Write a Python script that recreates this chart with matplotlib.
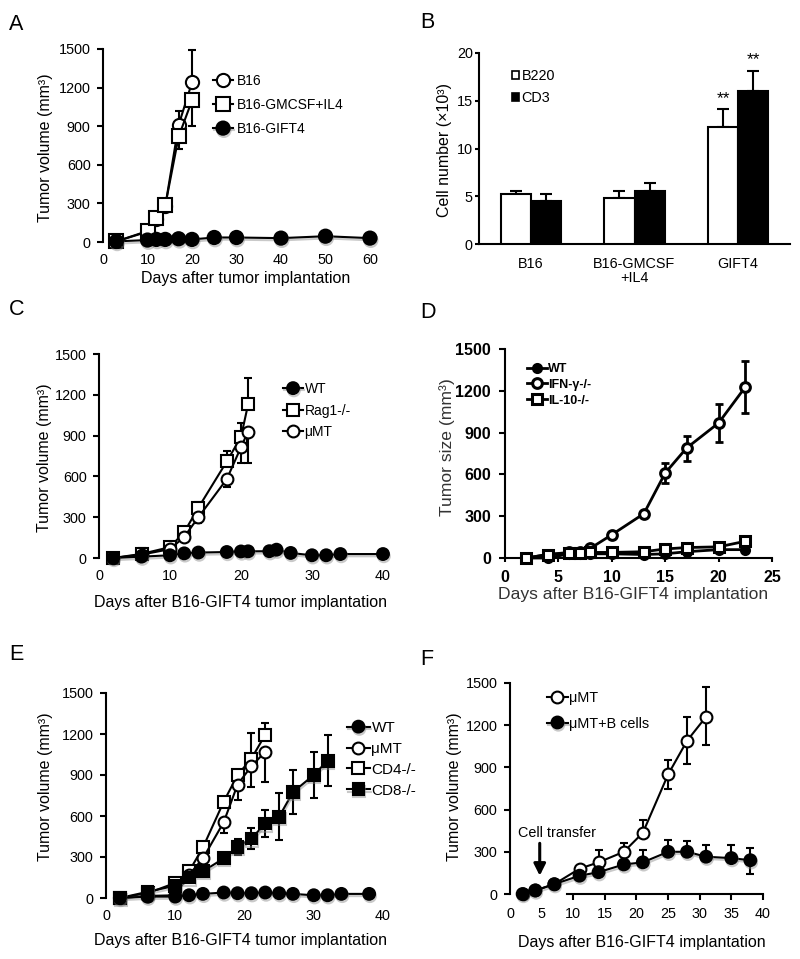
import matplotlib
matplotlib.use('Agg')
import matplotlib.pyplot as plt
import matplotlib.patheffects as pe
from matplotlib.patches import Patch
import numpy as np

plt.rcParams['font.family'] = ['Liberation Sans', 'DejaVu Sans']
plt.rcParams['axes.linewidth'] = 1.5

W, H = 800, 959

# ---------------- data ----------------
# Panel A
a_x = [3, 10, 12, 14, 17, 20]
a_b16 = [5, 80, 180, 280, 910, 1240]
a_b16_up = [0, 0, 0, 0, 110, 250]
a_gm = [5, 85, 185, 285, 820, 1100]
a_gm_dn = [0, 0, 0, 0, 100, 200]
a_gift_x = [3, 10, 12, 14, 17, 20, 25, 30, 40, 50, 60]
a_gift = [5, 15, 20, 20, 25, 20, 35, 35, 30, 45, 30]
a_labels = ['B16', 'B16-GMCSF+IL4', 'B16-GIFT4']

# Panel B
b_cats = ['B16', 'B16-GMCSF\n+IL4', 'GIFT4']
b_b220 = [5.2, 4.8, 12.2]
b_b220_err = [0.4, 0.8, 1.9]
b_cd3 = [4.5, 5.6, 16.0]
b_cd3_err = [0.75, 0.75, 2.15]
b_labels = ['B220', 'CD3']

# Panel C
c_x = [2, 6, 10, 12, 14, 18, 20, 21]
c_rag = [0, 30, 80, 190, 370, 710, 890, 1130]
c_rag_up = [0, 40, 40, 40, 45, 80, 100, 190]
c_mumt = [0, 25, 65, 155, 300, 580, 815, 930]
c_mumt_dn = [0, 40, 40, 30, 40, 60, 120, 230]
c_wt_x = [2, 6, 10, 12, 14, 18, 20, 21, 24, 25, 27, 30, 32, 34, 40]
c_wt = [0, 10, 20, 34, 40, 44, 48, 49, 50, 61, 37, 20, 20, 29, 29]
c_labels = ['WT', 'Rag1-/-', 'μMT']

# Panel D
d_x = [2, 4, 6, 7, 8, 10, 13, 15, 17, 20, 22.5]
d_wt = [0, 0, 30, 30, 30, 30, 25, 30, 45, 60, 60]
d_ifn = [0, 25, 40, 40, 70, 167, 318, 610, 789, 969, 1227]
d_ifn_err = [0, 0, 0, 0, 0, 15, 20, 75, 90, 135, 185]
d_il10 = [0, 25, 35, 35, 40, 40, 45, 65, 75, 80, 120]
d_labels = ['WT', 'IFN-γ-/-', 'IL-10-/-']

# Panel E
e_x = [2, 6, 10, 12, 14, 17, 19, 21, 23]
e_mumt = [0, 15, 20, 170, 290, 555, 830, 965, 1070]
e_mumt_dn = [0, 0, 0, 0, 0, 80, 115, 150, 220]
e_cd4 = [0, 35, 110, 195, 370, 705, 900, 1020, 1195]
e_cd4_up = [0, 0, 0, 0, 0, 0, 0, 190, 85]
e_cd8_x = [2, 6, 10, 12, 14, 17, 19, 21, 23, 25, 27, 30, 32]
e_cd8 = [0, 45, 90, 150, 195, 290, 375, 435, 545, 595, 775, 900, 1005]
e_cd8_err = [0, 0, 0, 0, 0, 0, 60, 80, 100, 170, 160, 170, 185]
e_wt_x = [2, 6, 10, 12, 14, 17, 19, 21, 23, 25, 27, 30, 32, 34, 38]
e_wt = [0, 10, 10, 20, 30, 40, 35, 35, 40, 35, 30, 20, 20, 30, 30]
e_labels = ['WT', 'μMT', 'CD4-/-', 'CD8-/-']

# Panel F
f_mumt_x = [2, 4, 7, 11, 14, 18, 21, 25, 28, 31]
f_mumt = [0, 25, 70, 180, 225, 300, 435, 850, 1090, 1260]
f_mumt_dn = [0, 0, 0, 0, 0, 0, 0, 100, 165, 200]
f_mumt_up = [0, 0, 0, 0, 85, 60, 90, 105, 170, 215]
f_b_x = [2, 4, 7, 11, 14, 18, 21, 25, 28, 31, 35, 38]
f_b = [0, 25, 70, 130, 155, 210, 225, 300, 300, 265, 255, 240]
f_b_up = [0, 0, 0, 0, 0, 0, 85, 85, 75, 85, 90, 85]
f_b_dn = [0, 0, 0, 0, 0, 0, 0, 0, 0, 0, 0, 95]
f_labels = ['μMT', 'μMT+B cells']

TICK_FS = 10.4
LAB_FS = 11.5

# ---------------- figure ----------------
fig = plt.figure(figsize=(W / 100, H / 100), dpi=100)


def axes_px(l, t, r, b):
    return fig.add_axes([l / W, 1 - b / H, (r - l) / W, (b - t) / H])


def fx(x):
    return x / W


def fy(y):
    return 1 - y / H


SHADOW = [pe.SimpleLineShadow(offset=(0.6, -1.6), shadow_color='#888888', alpha=0.45), pe.Normal()]


def line(ax, x, y, marker, filled, ms=9, lw=1.5, mew=1.5, z=4, shadow=True):
    fc = 'black' if filled else 'white'
    ln = ax.plot(x, y, color='black', lw=lw, marker=marker, ms=ms, mfc=fc,
                 mec='black', mew=mew, zorder=z, clip_on=False)[0]
    if shadow and filled:
        ln.set_path_effects(SHADOW)
    return ln


def err(ax, x, y, lo, hi, lw=1.5, cap=3, z=2):
    ax.errorbar(x, y, yerr=[lo, hi], fmt='none', ecolor='black', elinewidth=lw,
                capsize=cap, capthick=lw, zorder=z, clip_on=False)


def style(ax, xlim, xticks, ylim, yticks, bottom=False, fs=TICK_FS, bold=False):
    for s in ['top', 'right']:
        ax.spines[s].set_visible(False)
    ax.spines['bottom'].set_visible(bottom)
    ax.set_xlim(*xlim)
    ax.set_ylim(*ylim)
    ax.set_xticks(xticks)
    ax.set_yticks(yticks)
    ax.tick_params(axis='y', direction='out', length=4, width=1.5, pad=5, labelsize=fs)
    ax.tick_params(axis='x', direction='out', length=0, width=1.5, pad=8, labelsize=fs)
    if bold:
        for t in ax.get_xticklabels() + ax.get_yticklabels():
            t.set_fontweight('bold')
    ax.patch.set_alpha(0)


def labels(ax, xl, xlc, yl, ylc, fs=LAB_FS, color='black', weight='normal'):
    ax.set_xlabel(xl, fontsize=fs, va='center', color=color, fontweight=weight)
    ax.xaxis.set_label_coords(fx(xlc[0]), fy(xlc[1]), transform=fig.transFigure)
    ax.set_ylabel(yl, fontsize=fs, va='center', color=color, fontweight=weight)
    ax.yaxis.set_label_coords(fx(ylc[0]), fy(ylc[1]), transform=fig.transFigure)


def legend_at(ax, handles, labs, x, ytop, fs=10, hl=1.45, ls=0.7, tp=0.3, weight='normal', **kw):
    leg = ax.legend(handles, labs, loc='upper left', bbox_to_anchor=(fx(x), fy(ytop)),
                    bbox_transform=fig.transFigure, frameon=False, borderpad=0,
                    borderaxespad=0, handlelength=hl, labelspacing=ls,
                    handletextpad=tp, prop={'size': fs, 'weight': weight}, **kw)
    return leg


def panel_letter(x, yb, s):
    fig.text(fx(x), fy(yb), s, fontsize=15.5, va='baseline', ha='left')


# ---------------- Panel A ----------------
ax = axes_px(103, 49, 370, 242)
err(ax, a_x, a_b16, [0] * len(a_x), a_b16_up)
err(ax, a_x, a_gm, a_gm_dn, [0] * len(a_x))
h3 = line(ax, a_gift_x, a_gift, 'o', True, ms=9.5, z=5)
h1 = line(ax, a_x, a_b16, 'o', False, ms=9.5, z=4)
h2 = line(ax, a_x, a_gm, 's', False, ms=9.5, z=4.5)
style(ax, (0, 60), range(0, 61, 10), (0, 1500), range(0, 1501, 300))
labels(ax, 'Days after tumor implantation', (246, 278), 'Tumor volume (mm³)', (46, 148))
legend_at(ax, [h1, h2, h3], a_labels, 213, 74, ls=0.72, hl=1.45, tp=0.3)
panel_letter(9, 30, 'A')

# ---------------- Panel B ----------------
ax = axes_px(479, 53, 790, 244)
bw = 0.29
xb = np.arange(len(b_cats))
ax.bar(xb - bw / 2, b_b220, bw, color='white', edgecolor='black', lw=1.5, zorder=3)
ax.bar(xb + bw / 2, b_cd3, bw, color='black', edgecolor='black', lw=1.5, zorder=3)
ax.errorbar(xb - bw / 2, b_b220, yerr=[np.zeros(3), b_b220_err], fmt='none', ecolor='black',
            elinewidth=1.5, capsize=4, capthick=1.5, zorder=2)
ax.errorbar(xb + bw / 2, b_cd3, yerr=[np.zeros(3), b_cd3_err], fmt='none', ecolor='black',
            elinewidth=1.5, capsize=4, capthick=1.5, zorder=2)
ax.text(xb[2] - bw / 2, b_b220[2] + b_b220_err[2] + 0.35, '**', ha='center', va='bottom', fontsize=12.5)
ax.text(xb[2] + bw / 2, b_cd3[2] + b_cd3_err[2] + 0.35, '**', ha='center', va='bottom', fontsize=12.5)
style(ax, (-0.5, 2.5), xb, (0, 20), range(0, 21, 5), bottom=True)
ax.tick_params(axis='y', length=3, pad=1.5)
ax.set_xticklabels(b_cats, linespacing=1.05)
ax.tick_params(axis='x', pad=9)
ax.set_ylabel('Cell number (×10³)', fontsize=LAB_FS, va='center')
ax.yaxis.set_label_coords(fx(444), fy(150), transform=fig.transFigure)
hb = [Patch(facecolor='white', edgecolor='black', lw=1.2), Patch(facecolor='black', edgecolor='black', lw=1.2)]
legend_at(ax, hb, b_labels, 512, 69, fs=10.4, hl=0.45, ls=0.55, tp=0.2, handleheight=0.45)
panel_letter(420, 28, 'B')

# ---------------- Panel C ----------------
ax = axes_px(99, 354, 383, 558)
err(ax, c_x, c_rag, [0] * len(c_x), c_rag_up)
err(ax, c_x, c_mumt, c_mumt_dn, [0] * len(c_x))
hc1 = line(ax, c_wt_x, c_wt, 'o', True, ms=8.5, z=5)
hc2 = line(ax, c_x, c_rag, 's', False, ms=8.5, z=4)
hc3 = line(ax, c_x, c_mumt, 'o', False, ms=8.5, z=4.5)
style(ax, (0, 40), range(0, 41, 10), (0, 1500), range(0, 1501, 300))
labels(ax, 'Days after B16-GIFT4 tumor implantation', (240, 603), 'Tumor volume (mm³)', (45, 458))
legend_at(ax, [hc1, hc2, hc3], c_labels, 283, 382, ls=0.55, hl=1.45, tp=0.1)
panel_letter(9, 315, 'C')

# ---------------- Panel D ----------------
ax = axes_px(505, 349, 772, 558)
err(ax, d_x, d_ifn, d_ifn_err, d_ifn_err, lw=2, cap=3)
hd2 = line(ax, d_x, d_ifn, 'o', False, ms=7, lw=2, mew=2.2, z=4)
hd3 = line(ax, d_x, d_il10, 's', False, ms=7, lw=2, mew=2.2, z=4.5)
hd1 = line(ax, d_x, d_wt, 'o', True, ms=6, lw=2, mew=2, z=4.2, shadow=False)
style(ax, (0, 25), range(0, 26, 5), (0, 1500), range(0, 1501, 300), bottom=True, fs=11.5, bold=True)
ax.tick_params(axis='x', length=3, pad=6)
ax.tick_params(axis='y', pad=6)
labels(ax, 'Days after B16-GIFT4 implantation', (633, 595), 'Tumor size (mm³)', (447, 447),
       fs=12.6, color='#333333')
legend_at(ax, [hd1, hd2, hd3], d_labels, 527, 363, fs=9, ls=0.3, hl=1.6, tp=0.1, weight='bold')
panel_letter(420, 318, 'D')

# ---------------- Panel E ----------------
ax = axes_px(106, 693, 383, 898)
err(ax, e_x, e_mumt, e_mumt_dn, [0] * len(e_x))
err(ax, e_x, e_cd4, [0] * len(e_x), e_cd4_up)
err(ax, e_cd8_x, e_cd8, e_cd8_err, e_cd8_err)
he1 = line(ax, e_wt_x, e_wt, 'o', True, ms=8.5, z=5)
he4 = line(ax, e_cd8_x, e_cd8, 's', True, ms=8.5, z=4.8)
he2 = line(ax, e_x, e_mumt, 'o', False, ms=8.5, z=4.5)
he3 = line(ax, e_x, e_cd4, 's', False, ms=8.5, z=4)
style(ax, (0, 40), range(0, 41, 10), (0, 1500), range(0, 1501, 300))
labels(ax, 'Days after B16-GIFT4 tumor implantation', (240, 940), 'Tumor volume (mm³)', (46, 787))
legend_at(ax, [he1, he2, he3, he4], e_labels, 347, 721, fs=11, ls=0.45, hl=1.5, tp=0.1)
panel_letter(9, 660, 'E')

# ---------------- Panel F ----------------
ax = axes_px(510, 683, 763, 894)
err(ax, f_mumt_x, f_mumt, f_mumt_dn, f_mumt_up)
err(ax, f_b_x, f_b, f_b_dn, f_b_up)
hf2 = line(ax, f_b_x, f_b, 'o', True, ms=8.5, z=5)
hf1 = line(ax, f_mumt_x, f_mumt, 'o', False, ms=8.5, z=4)
style(ax, (0, 40), range(0, 41, 5), (0, 1500), range(0, 1501, 300), bottom=True)
ax.spines['bottom'].set_bounds(9, 40)
ax.tick_params(axis='x', length=4, pad=5)
for t in ax.xaxis.get_major_ticks()[:2]:
    t.tick1line.set_visible(False)
labels(ax, 'Days after B16-GIFT4 implantation', (642, 942), 'Tumor volume (mm³)', (454, 787))
legend_at(ax, [hf1, hf2], f_labels, 547, 691, fs=10.4, ls=0.8, hl=1.45, tp=0.1)
ax.annotate('', xy=(4.7, 110), xytext=(4.7, 380),
            arrowprops=dict(arrowstyle='-|>,head_width=0.35,head_length=0.7', color='black', lw=2.2))
ax.text(7.4, 434, 'Cell transfer', ha='center', va='center', fontsize=10.4)
panel_letter(420, 665, 'F')

fig.savefig('out.png', dpi=100)
